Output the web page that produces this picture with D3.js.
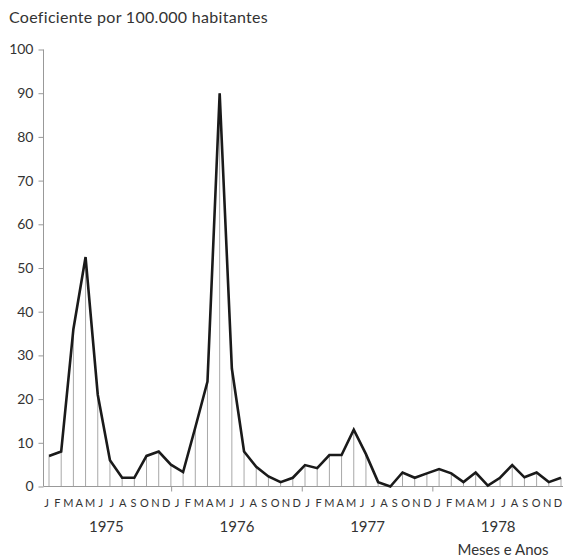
<!DOCTYPE html>
<html>
<head>
<meta charset="utf-8">
<script src="https://cdn.jsdelivr.net/npm/d3@7"></script>
<style>
  body { margin: 0; background: #fff; }
  svg text { font-family: "Lato", "Noto Sans", sans-serif; fill: #333; }
</style>
</head>
<body>
<svg id="chart"></svg>
<script>
// monthly coefficients
const values = [7, 8, 36, 52.5, 21, 6, 2, 2, 7, 8, 5, 3.3,
    13.5, 24, 90, 27, 8, 4.5, 2.3, 1, 2, 4.9, 4.2, 7.2,
    7.2, 13, 7.4, 1, 0, 3.2, 2, 3, 4, 3, 1, 3.2,
    0.2, 2, 4.9, 2.1, 3.2, 1, 2];
const monthLetters = ["J", "F", "M", "A", "M", "J", "J", "A", "S", "O", "N", "D"];
const years = [1975, 1976, 1977, 1978];
const yTicks = [0, 10, 20, 30, 40, 50, 60, 70, 80, 90, 100];

const width = 563, height = 558;

const svg = d3.select("#chart")
    .attr("width", width)
    .attr("height", height);

const y = d3.scaleLinear().domain([0, 100]).range([486.5, 49.5]);
// data points
const x = d3.scaleLinear().domain([0, values.length - 1]).range([49, 561]);
// month labels (one per month of the four years)
const months = d3.range(years.length * 12);
const xm = d3.scalePoint().domain(months).range([46.5, 558]);
const step = xm.step();

// title
svg.append("text")
    .attr("x", 9)
    .attr("y", 23)
    .style("font-size", "16px")
    .style("letter-spacing", "0.3px")
    .text("Coeficiente por 100.000 habitantes");

// y axis
const yAxis = svg.append("g")
    .attr("transform", "translate(43.5,0)")
    .call(d3.axisLeft(y).tickValues(yTicks).tickSize(5).tickPadding(5));
yAxis.select(".domain").attr("stroke", "#999").attr("d", `M0,${y(100)}V${y(0)}`);
yAxis.selectAll(".tick line").attr("stroke", "#999");
yAxis.selectAll(".tick text")
    .style("font-size", "14px")
    .attr("fill", "#333")
    .attr("font-family", null);

// drop lines
svg.append("g")
    .selectAll("line")
    .data(values)
    .enter()
    .append("line")
    .attr("x1", (d, i) => x(i))
    .attr("x2", (d, i) => x(i))
    .attr("y1", d => y(d))
    .attr("y2", y(0))
    .attr("stroke", "#a8a8a8")
    .attr("stroke-width", 1);

// x axis baseline
svg.append("line")
    .attr("x1", 43.5)
    .attr("x2", width)
    .attr("y1", y(0))
    .attr("y2", y(0))
    .attr("stroke", "#999")
    .attr("stroke-width", 1);

// year boundary ticks
svg.append("g")
    .selectAll("line")
    .data(years.slice(1))
    .enter()
    .append("line")
    .attr("x1", (d, i) => xm((i + 1) * 12 - 1) + step / 2)
    .attr("x2", (d, i) => xm((i + 1) * 12 - 1) + step / 2)
    .attr("y1", y(0))
    .attr("y2", y(0) + 5)
    .attr("stroke", "#999");

// the series
svg.append("path")
    .datum(values)
    .attr("fill", "none")
    .attr("stroke", "#1a1a1a")
    .attr("stroke-width", 2.6)
    .attr("stroke-linejoin", "miter")
    .attr("d", d3.line().x((d, i) => x(i)).y(d => y(d)));

// month letters
svg.append("g")
    .selectAll("text")
    .data(months)
    .enter()
    .append("text")
    .attr("x", d => xm(d))
    .attr("y", 507)
    .attr("text-anchor", "middle")
    .style("font-size", "11px")
    .text(d => monthLetters[d % 12]);

// years
svg.append("g")
    .selectAll("text")
    .data(years)
    .enter()
    .append("text")
    .attr("x", (d, i) => (xm(i * 12) + xm(i * 12 + 11)) / 2)
    .attr("y", 532)
    .attr("text-anchor", "middle")
    .style("font-size", "15px")
    .text(d => d);

svg.append("text")
    .attr("x", 503)
    .attr("y", 555)
    .attr("text-anchor", "middle")
    .style("font-size", "15px")
    .text("Meses e Anos");
</script>
</body>
</html>
